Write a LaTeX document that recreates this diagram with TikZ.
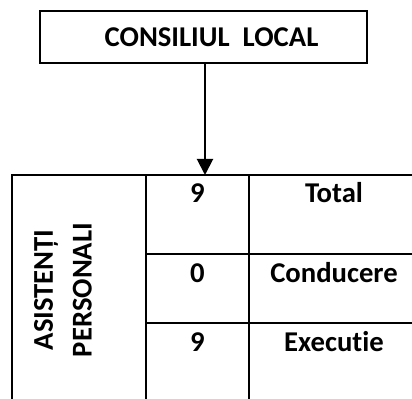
\documentclass[tikz,border=0pt]{standalone}
\usepackage{fontspec}
\setmainfont{Carlito}[Ligatures=NoCommon]
\usetikzlibrary{arrows.meta}

\tikzset{
  boxlabel/.style={font=\bfseries\fontsize{21.5}{29}\selectfont},
}

\begin{document}
\begin{tikzpicture}[x=0.75pt,y=-0.75pt,line width=1.5pt]
\useasboundingbox (0,0) rectangle (412,399);

% Council box
\node[draw, boxlabel, minimum width=245pt, minimum height=39pt, inner sep=0pt] (consiliul) at (203.5,37) {\hspace*{12pt}CONSILIUL\ \ LOCAL};

% Table grid
\coordinate (tabletop) at (205,175);
\draw (420,175) -- (12,175) -- (12,410);
\draw (146,175) -- (146,410);
\draw (249,175) -- (249,410);
\draw (146,254) -- (420,254);
\draw (146,323) -- (420,323);

% Arrow
\draw[-{Triangle[width=12pt,length=12pt]}] (consiliul.south -| tabletop) -- (tabletop);

% Staff label
\node[boxlabel, rotate=90, align=center] (asistenti) at (63,290) {ASISTENȚI\\PERSONALI};

% Numbers and categories
\foreach \num/\lbl/\yb [count=\i] in {9/Total/203, 0/Conducere/283, 9/Executie/352} {
  \node[boxlabel, anchor=base] (num\i) at (197.5,\yb) {\num};
  \node[boxlabel, anchor=base] (lbl\i) at (334,\yb) {\lbl};
}

\end{tikzpicture}
\end{document}
